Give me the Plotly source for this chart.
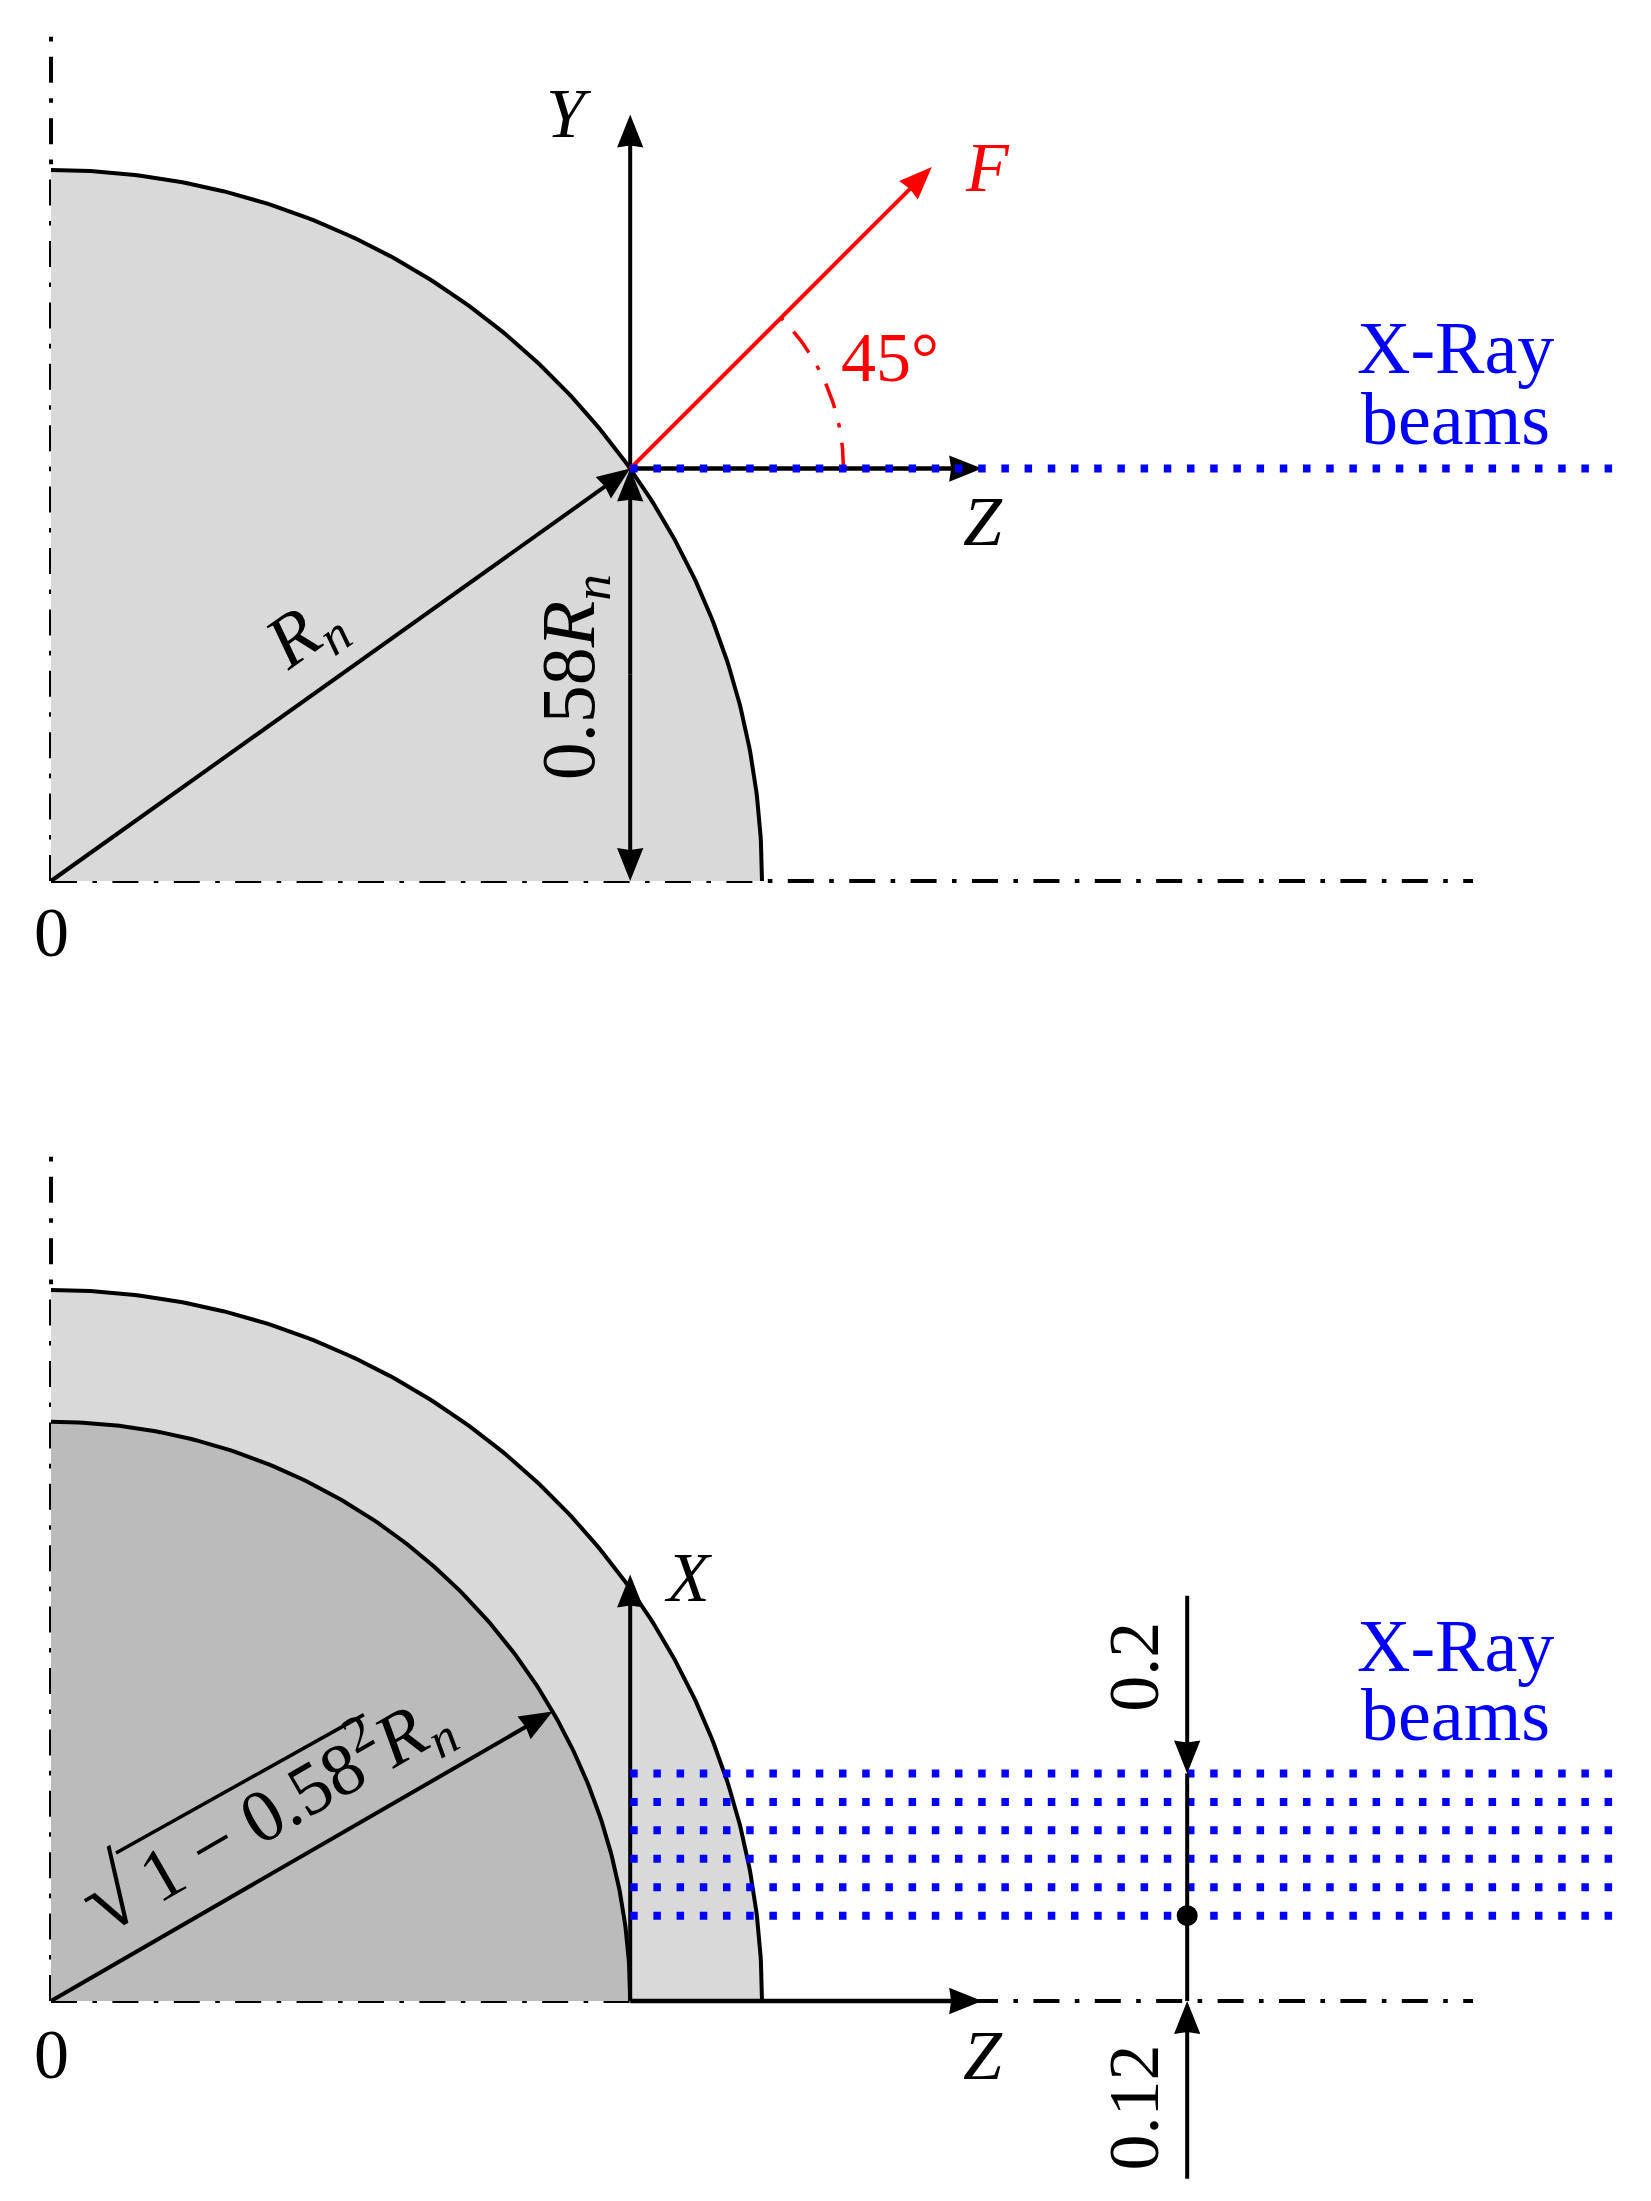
import numpy as np
import plotly.graph_objects as go

# Everything is in units of the nucleus radius Rn
R=1.0
h=0.58
r_inner=np.sqrt(1-h**2)
axis_len=2.0
axis_top=1.19
beam_end=2.2
beam_y_bottom=[0.12,0.16,0.20,0.24,0.28,0.32]
z_len=0.495
y_len=0.498
x_len=0.6
f_len=0.6
angle_r=0.3
probe_z=1.598
probe_top=0.32+0.25
probe_bottom=-0.25

# Where the second drawing sits under the first one
dy2=-1120/711

BLACK='#000000'
RED='#ff0000'
BLUE='#0000ff'
DASHDOT='26px,15.4px,4.6px,15.4px'
DOTS='7.5px,15.7px'
FONT='Liberation Serif'

fig=go.Figure()

def line(x,y,color=BLACK,width=4,dash=None):
    fig.add_trace(go.Scatter(x=x,y=y,mode='lines',line=dict(color=color,width=width,dash=dash),hoverinfo='skip'))

def head(tip,ang,color=BLACK):
    # arrow head, slightly hollow at the back
    L=0.0464
    W=0.0185
    a=np.radians(ang)
    c,s=np.cos(a),np.sin(a)
    px=[0,-L,-L*0.94,-L,0]
    py=[0,W,0,-W,0]
    xs=[tip[0]+c*u-s*v for u,v in zip(px,py)]
    ys=[tip[1]+s*u+c*v for u,v in zip(px,py)]
    fig.add_trace(go.Scatter(x=xs,y=ys,mode='lines',fill='toself',fillcolor=color,line=dict(width=0,color=color),hoverinfo='skip'))

def arrow(a,b,color=BLACK,width=4):
    ang=np.degrees(np.arctan2(b[1]-a[1],b[0]-a[0]))
    t=np.radians(ang)
    line([a[0],b[0]-0.03*np.cos(t)],[a[1],b[1]-0.03*np.sin(t)],color,width)
    head(b,ang,color)

def disc(r,y0,color):
    t=np.linspace(0,np.pi/2,200)
    fig.add_trace(go.Scatter(x=np.r_[0,r*np.cos(t),0],y=np.r_[y0,y0+r*np.sin(t),y0],mode='lines',fill='toself',fillcolor=color,line=dict(width=0),hoverinfo='skip'))

def arc(r,y0):
    t=np.linspace(0,np.pi/2,200)
    line(r*np.cos(t),y0+r*np.sin(t))

def label(x,y,text,size=70,color=BLACK,angle=0):
    fig.add_annotation(x=x,y=y,text=text,showarrow=False,xanchor='center',yanchor='middle',textangle=angle,font=dict(family=FONT,size=size,color=color))

# Top drawing
line([0,0],[0,axis_top],dash=DASHDOT)
line([0,axis_len],[0,0],dash=DASHDOT)
disc(R,0,'#d9d9d9')
arc(R,0)
rz=np.sqrt(1-h**2)
arrow((rz,h),(rz,h+y_len))
arrow((rz,h),(rz+z_len,h),width=4.5)
arrow((0,0),(rz,h))
arrow((rz,h/2),(rz,h))
arrow((rz,h/2),(rz,0))
f=np.radians(45)
arrow((rz,h),(rz+f_len*np.cos(f),h+f_len*np.sin(f)),RED)
t=np.linspace(0,f,60)
line(rz+angle_r*np.cos(t),h+angle_r*np.sin(t),RED,3.5,DASHDOT)
line([rz,beam_end],[h,h],BLUE,8,DOTS)

# Bottom drawing
line([0,0],[dy2,dy2+axis_top],dash=DASHDOT)
line([0,axis_len],[dy2,dy2],dash=DASHDOT)
disc(R,dy2,'#d9d9d9')
disc(r_inner,dy2,'#bbbbbb')
arc(R,dy2)
arc(r_inner,dy2)
arrow((rz,dy2),(rz,dy2+x_len))
arrow((rz,dy2),(rz+z_len,dy2),width=4.5)
a30=np.radians(30)
arrow((0,dy2),(r_inner*np.cos(a30),dy2+r_inner*np.sin(a30)))
for yb in beam_y_bottom:
    line([rz,beam_end],[dy2+yb,dy2+yb],BLUE,8,DOTS)
arrow((probe_z,dy2+probe_top),(probe_z,dy2+0.32),width=4)
line([probe_z,probe_z],[dy2+0.32,dy2],width=4)
arrow((probe_z,dy2+probe_bottom),(probe_z,dy2),width=4)
fig.add_trace(go.Scatter(x=[probe_z],y=[dy2+0.12],mode='markers',marker=dict(size=21,color=BLACK),hoverinfo='skip'))
line([0.0914,0.440],[dy2+0.2082,dy2+0.4028],width=3.5)

# Texts
label(0.728,1.079,'<i>Y</i>')
label(1.317,1.003,'<i>F</i>',color=RED)
label(1.180,0.736,'45°',color=RED)
label(1.975,0.750,'X-Ray',size=74,color=BLUE)
label(1.975,0.650,'beams',size=74,color=BLUE)
label(1.311,0.505,'<i>Z</i>')
label(0.735,0.286,'0.58<i>R</i><sub><i>n</i></sub>',size=76,angle=-90)
label(0.358,0.346,'<i>R</i><sub><i>n</i></sub>',size=74,angle=-35.4)
label(0,-0.073,'0')
label(0,dy2-0.075,'0')
label(1.311,dy2-0.076,'<i>Z</i>')
label(0.897,dy2+0.596,'<i>X</i>')
label(1.975,dy2+0.499,'X-Ray',size=74,color=BLUE)
label(1.975,dy2+0.402,'beams',size=74,color=BLUE)
label(1.523,dy2+0.470,'0.2',size=72,angle=-90)
label(1.523,dy2-0.150,'0.12',size=72,angle=-90)
label(0.342,dy2+0.287,'1 − 0.58<sup>2</sup><i>R</i><sub><i>n</i></sub>',size=74,angle=-30)
label(0.082,dy2+0.148,'√',size=96,angle=-30)

fig.update_layout(
    width=1651,height=2201,
    margin=dict(l=0,r=0,t=0,b=0),
    showlegend=False,
    plot_bgcolor='white',paper_bgcolor='white',
    xaxis=dict(range=[-51/711,1600/711],visible=False,fixedrange=True),
    yaxis=dict(range=[-1320/711,881/711],visible=False,fixedrange=True),
)

fig.write_html("out.html",config=dict(displayModeBar=False),post_script="document.body.style.margin='0';")
